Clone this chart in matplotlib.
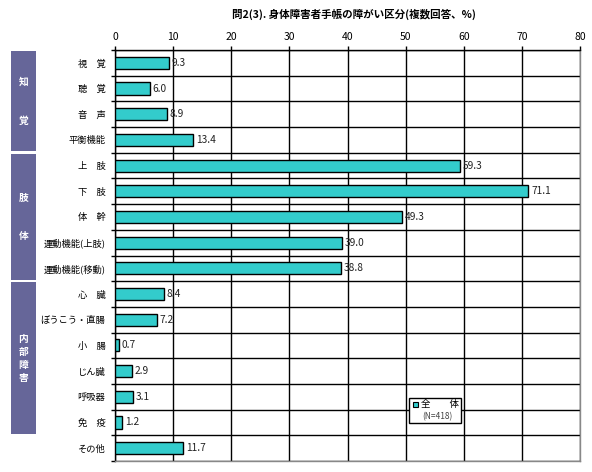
import matplotlib
matplotlib.use("Agg")
import matplotlib.pyplot as plt
from matplotlib.patches import Rectangle
from matplotlib.transforms import blended_transform_factory
import numpy as np

plt.rcParams['font.family'] = ['Noto Sans CJK JP', 'DejaVu Sans']

title = "問2(3). 身体障害者手帳の障がい区分(複数回答、%)"
categories = ["視　覚", "聴　覚", "音　声", "平衡機能", "上　肢", "下　肢", "体　幹",
              "運動機能(上肢)", "運動機能(移動)", "心　臓", "ぼうこう・直腸", "小　腸",
              "じん臓", "呼吸器", "免　疫", "その他"]
values = [9.3, 6.0, 8.9, 13.4, 59.3, 71.1, 49.3, 39.0, 38.8, 8.4, 7.2, 0.7, 2.9, 3.1, 1.2, 11.7]
groups = [("知覚", 0, 3, 1.5), ("肢体", 4, 8, 1.45), ("内部障害", 9, 14, 0.5)]
xticks = [0, 10, 20, 30, 40, 50, 60, 70, 80]
legend_label = "全　　体"
legend_n = "(N=418)"

fig = plt.figure(figsize=(5.92, 4.72), dpi=100)
ax = fig.add_axes([115/592, 1-461/472, 465/592, 411/472])

y = np.arange(len(categories))
ax.barh(y, values, height=0.47, color="#33CCCC", edgecolor="black", linewidth=1.0, zorder=3)
for yi, v in zip(y, values):
    ax.annotate(f"{v:.1f}", (v, yi), xytext=(2, 0), textcoords="offset points",
                va="center", ha="left", fontsize=7.3, color="#222222", zorder=4)

ax.set_xlim(0, 80)
ax.set_ylim(len(categories)-0.5, -0.5)
ax.xaxis.tick_top()
ax.set_xticks(xticks)
ax.set_xticklabels([str(t) for t in xticks], fontsize=7.5)
ax.tick_params(axis="x", direction="out", length=3, width=1, pad=3, color="black")
ax.set_yticks(y)
ax.set_yticklabels(categories, fontsize=6.7)
ax.tick_params(axis="y", which="major", length=0, pad=7)
ax.set_yticks(np.arange(-0.5, len(categories), 1.0), minor=True)
ax.tick_params(axis="y", which="minor", length=3, width=1, direction="out")
ax.grid(True, axis="x", which="major", color="black", linewidth=1.0, zorder=1)
ax.grid(True, axis="y", which="minor", color="black", linewidth=1.0, zorder=1)
ax.set_axisbelow(True)
for s in ["top", "left"]:
    ax.spines[s].set_color("black")
    ax.spines[s].set_linewidth(1.0)
for s in ["right", "bottom"]:
    ax.spines[s].set_color("#888888")
    ax.spines[s].set_linewidth(1.0)

fig.text(354/592, 1-14/472, title, ha="center", va="center", fontsize=7.6, fontweight="bold")

# group boxes
tr = blended_transform_factory(fig.transFigure, ax.transData)
for label, a, b, step in groups:
    r = Rectangle((11/592, a-0.5+0.05), 25/592, (b-a+1)-0.1, transform=tr,
                  facecolor="#666699", edgecolor="none", clip_on=False)
    ax.add_artist(r)
    c = (a + b) / 2
    n = len(label)
    for k, ch in enumerate(label):
        ax.text(23.5/592, c + (k - (n-1)/2) * step, ch, transform=tr, ha="center", va="center",
                color="white", fontsize=7, fontweight="bold")

# legend
lx0, lx1, ly0, ly1 = 0.632, 0.744, 0.092, 0.153
ax.add_patch(Rectangle((lx0, ly0), lx1-lx0, ly1-ly0, transform=ax.transAxes,
                       facecolor="white", edgecolor="black", linewidth=1.0, zorder=5))
ax.add_patch(Rectangle((lx0+0.009, 0.131), 0.011, 0.013, transform=ax.transAxes,
                       facecolor="#33CCCC", edgecolor="black", linewidth=0.8, zorder=6))
ax.text(lx0+0.026, 0.137, legend_label, transform=ax.transAxes, fontsize=6.8,
        va="center", ha="left", zorder=6)
ax.text((lx0+lx1)/2+0.005, 0.108, legend_n, transform=ax.transAxes, fontsize=6,
        va="center", ha="center", color="#444444", zorder=6)

fig.savefig("out.png", dpi=100)
